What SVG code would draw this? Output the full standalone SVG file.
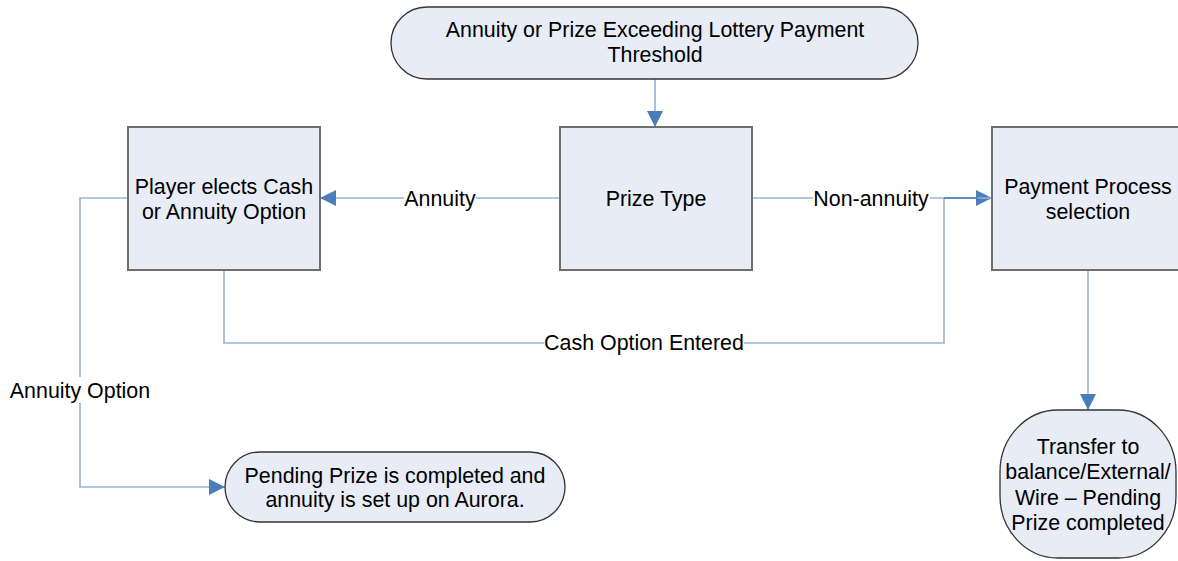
<svg xmlns="http://www.w3.org/2000/svg" width="1178" height="561" viewBox="0 0 1178 561">
<style>
.box{fill:#E7ECF6;stroke:#6E6E6E;stroke-width:2}
.term{fill:#E7ECF6;stroke:#333;stroke-width:1.3}
.t{font-family:"Liberation Sans",Arial,sans-serif;font-size:21.4px;fill:#000;text-anchor:middle}
.c{fill:none;stroke:#95B3D7;stroke-width:1.6}
.lbg{fill:#fff}
</style>
<defs>
<marker id="ah" markerUnits="userSpaceOnUse" markerWidth="18" markerHeight="16" refX="16" refY="8" orient="auto">
<path d="M0,0 L16,8 L0,16 Z" fill="#4A7EBB"/>
</marker>
</defs>
<rect width="1178" height="561" fill="#fff"/>
<g id="connectors">
<path class="c" d="M655,79 V127" marker-end="url(#ah)"/>
<path class="c" d="M560,198 H320" marker-end="url(#ah)"/>
<path class="c" d="M752,198 H992" marker-end="url(#ah)"/>
<path class="c" d="M224,270 V343 H944 V198 H992"/>
<path d="M944,198 H978" stroke="#4A7EBB" stroke-width="1.6"/>
<path class="c" d="M128,198 H80 V487 H225" marker-end="url(#ah)"/>
<path class="c" d="M1088,270 V410" marker-end="url(#ah)"/>
<rect class="lbg" x="404" y="185" width="72" height="26"/>
<text class="t" x="440" y="205.5">Annuity</text>
<rect class="lbg" x="813" y="185" width="117" height="26"/>
<text class="t" x="871" y="205.5">Non-annuity</text>
<rect class="lbg" x="544" y="330" width="200" height="26"/>
<text class="t" x="644" y="350">Cash Option Entered</text>
<rect class="lbg" x="9" y="377" width="141" height="26"/>
<text class="t" x="80" y="397.5">Annuity Option</text>
</g>
<g id="start">
<rect class="term" x="391" y="7" width="527" height="72" rx="36" ry="36"/>
<text class="t" x="655" y="36.5">Annuity or Prize Exceeding Lottery Payment</text>
<text class="t" x="655" y="61.5">Threshold</text>
</g>
<g id="prize-type">
<rect class="box" x="560" y="127" width="192" height="143"/>
<text class="t" x="656" y="205.5">Prize Type</text>
</g>
<g id="player-elects">
<rect class="box" x="128" y="127" width="192" height="143"/>
<text class="t" x="224" y="193.5">Player elects Cash</text>
<text class="t" x="224" y="218.5">or Annuity Option</text>
</g>
<g id="payment-process">
<rect class="box" x="992" y="127" width="193" height="143"/>
<text class="t" x="1088" y="193.5">Payment Process</text>
<text class="t" x="1088" y="218.5">selection</text>
</g>
<g id="pending-prize">
<rect class="term" x="225" y="452" width="340" height="70" rx="35" ry="35"/>
<text class="t" x="395" y="482.5">Pending Prize is completed and</text>
<text class="t" x="395" y="506.5">annuity is set up on Aurora.</text>
</g>
<g id="transfer">
<rect class="term" x="1000" y="410" width="176" height="148" rx="58" ry="62"/>
<text class="t" x="1088" y="453.5">Transfer to</text>
<text class="t" x="1088" y="478.5">balance/External/</text>
<text class="t" x="1088" y="504.5">Wire – Pending</text>
<text class="t" x="1088" y="529.5">Prize completed</text>
</g>
</svg>
